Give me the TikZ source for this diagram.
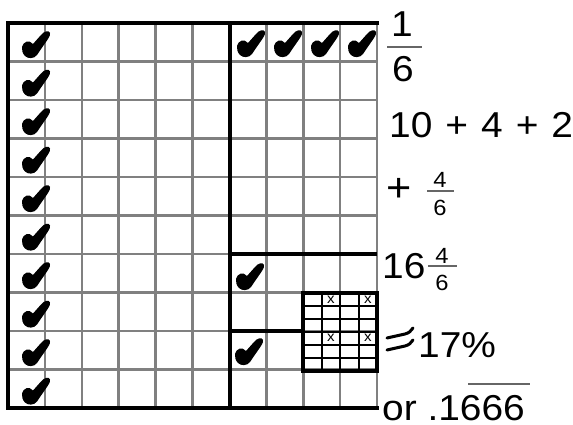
\documentclass[tikz,border=0pt]{standalone}
\usepackage{fontspec}
\setmainfont{Liberation Sans}[FakeStretch=1.08]
\begin{document}
\begin{tikzpicture}[x=1pt,y=-1pt,
  gridline/.style={draw=black!50, line width=2.6pt},
  boldline/.style={draw=black, line width=4pt},
  boxline/.style={draw=black, line width=2pt},
  barline/.style={draw=black!60, line width=2.6pt},
  bigtxt/.style={inner sep=0pt, font=\fontsize{36}{40}\selectfont},
  smalltxt/.style={inner sep=0pt, font=\fontsize{22}{24}\selectfont},
  xmark/.style={inner sep=0pt, font=\fontsize{14}{14}\selectfont},
  chk/.pic={\fill[black] (0,16) .. controls (1,11) and (7,8) .. (11,13) -- (19,4)
     .. controls (22,0) and (27,-1) .. (28,2) .. controls (29,5) and (25,9) .. (15,24)
     .. controls (12,28) and (6,28) .. (3,25) .. controls (0,22) and (0,19) .. (0,16) -- cycle;}
]
\useasboundingbox (0,0) rectangle (573,425);
\fill[white] (0,0) rectangle (573,425);
% gray grid
\foreach \i in {1,...,10} \draw[gridline] ({8+36.9*\i},23) -- ({8+36.9*\i},408);
\foreach \j in {1,...,9} \draw[gridline] (8,{23+38.5*\j}) -- (377,{23+38.5*\j});
% black outlines
\draw[boldline] (379,23) -- (8,23) -- (8,408) -- (379,408);
\draw[boldline] (230,23) -- (230,408);
\draw[boldline] (230,254) -- (377,254);
\draw[boldline] (230,331) -- (303,331);
% small box
\foreach \u in {321.5,340,358.5} \draw[boxline] (\u,293) -- (\u,371);
\foreach \v in {306,319,332,345,358} \draw[boxline] (303,\v) -- (377,\v);
\draw[boldline] (303,293) rectangle (377,371);
\node[xmark] (x1) at (331,300) {x};
\node[xmark] (x2) at (368,300) {x};
\node[xmark] (x3) at (331,338) {x};
\node[xmark] (x4) at (368,338) {x};
% checks
\foreach \j in {0,...,9} \pic at (22,{23+38.5*\j+8}) {chk};
\foreach \u in {237,274,311,348} \pic at (\u,30) {chk};
\pic at (236,263) {chk};
\pic at (235,338) {chk};
% texts
\node[bigtxt, anchor=base] (n1) at (402,37) {1};
\draw[barline] (387,47) -- (422,47);
\node[bigtxt, anchor=base] (d1) at (403,82) {6};
\node[bigtxt, anchor=base west] (sum) at (389,138) {10\hspace{13pt}+\hspace{13pt}4\hspace{13pt}+\hspace{13pt}2};
\node[inner sep=0pt, font=\fontsize{40}{40}\selectfont] (plus) at (399,190) {+};
\node[smalltxt, anchor=base] (n2) at (440,187) {4};
\draw[barline] (427,191) -- (454,191);
\node[smalltxt, anchor=base] (d2) at (440,215) {6};
\node[bigtxt, anchor=base west] (mix) at (382,278) {16};
\node[smalltxt, anchor=base] (n3) at (442,263) {4};
\draw[barline] (428,266) -- (457,266);
\node[smalltxt, anchor=base] (d3) at (442,290) {6};
\draw[black, line width=3pt, line cap=round] (387,338) -- (405,334) .. controls (409,333) and (411,331) .. (413,328);
\draw[black, line width=3pt, line cap=round] (387,350) -- (405,346) .. controls (409,345) and (411,343) .. (413,340);
\node[bigtxt, anchor=base west] (pct) at (418,357) {17\%};
\node[bigtxt, anchor=base west] (dec) at (382,420) {or .1666};
\draw[barline] (468,384) -- (530,384);
\end{tikzpicture}
\end{document}
